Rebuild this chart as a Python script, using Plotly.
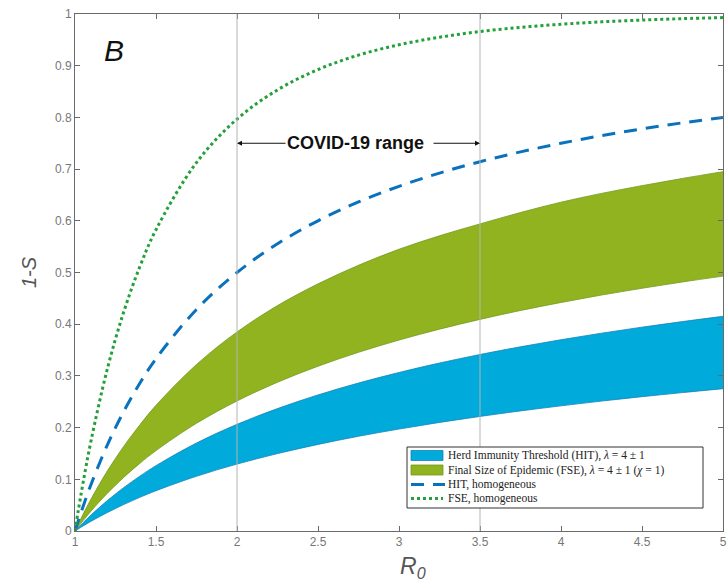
import plotly.graph_objects as go

# ---- data ----
R0 = [1, 1.02, 1.05, 1.1, 1.2, 1.3, 1.4, 1.5, 1.75, 2, 2.25, 2.5, 2.75, 3,
      3.25, 3.5, 3.75, 4, 4.25, 4.5, 4.75, 5]
hit_upper = [0, 0.0066, 0.0161, 0.0313, 0.0590, 0.0837, 0.1061, 0.1264, 0.1702,
             0.2063, 0.2368, 0.2632, 0.2862, 0.3066, 0.3249, 0.3414, 0.3563,
             0.3700, 0.3826, 0.3943, 0.4051, 0.4152]
hit_lower = [0, 0.0040, 0.0097, 0.0189, 0.0358, 0.0511, 0.0651, 0.0779, 0.1059,
             0.1294, 0.1497, 0.1674, 0.1832, 0.1972, 0.2100, 0.2216, 0.2323,
             0.2421, 0.2513, 0.2598, 0.2677, 0.2752]
fse_upper = [0, 0.0133, 0.0324, 0.0624, 0.1163, 0.1634, 0.2051, 0.243, 0.322,
             0.385, 0.436, 0.478, 0.514, 0.545, 0.571, 0.594, 0.616, 0.636,
             0.653, 0.668, 0.682, 0.695]
fse_lower = [0, 0.0082, 0.0201, 0.0389, 0.0730, 0.1035, 0.1308, 0.1555, 0.2083,
             0.2515, 0.2877, 0.3187, 0.3456, 0.3693, 0.3904, 0.4093, 0.4265,
             0.442, 0.4564, 0.4695, 0.4817, 0.493]
hit_hom = [0, 0.0196, 0.0476, 0.0909, 0.1667, 0.2308, 0.2857, 0.3333, 0.4286,
           0.5, 0.5556, 0.6, 0.6364, 0.6667, 0.6923, 0.7143, 0.7333, 0.75,
           0.7647, 0.7778, 0.7895, 0.8]
fse_hom = [0, 0.0390, 0.0937, 0.176, 0.314, 0.423, 0.511, 0.5828, 0.7127,
           0.7968, 0.8532, 0.8926, 0.9205, 0.9405, 0.955, 0.9661, 0.9741,
           0.9802, 0.9848, 0.9883, 0.991, 0.9930]
covid_range = [2, 3.5]

names = ["Herd Immunity Threshold (HIT), <i>λ</i> = 4 ± 1",
         "Final Size of Epidemic (FSE), <i>λ</i> = 4 ± 1 (<i>χ</i> = 1)",
         "HIT, homogeneous",
         "FSE, homogeneous"]

BLUE_FILL = "#00aadb"
BLUE_EDGE = "#1583b8"
GREEN_FILL = "#92b320"
GREEN_EDGE = "#6f9a1c"
DASH_BLUE = "#0a72bc"
DOT_GREEN = "#24a03a"
AXIS = "#6a6a6a"
DASH_PAT = "13px,9px"
DOT_PAT = "3px,3px"

fig = go.Figure()

fig.add_trace(go.Scatter(x=R0, y=hit_lower, mode="lines", showlegend=False,
                         line=dict(color=BLUE_EDGE, width=0.8, shape="spline")))
fig.add_trace(go.Scatter(x=R0, y=hit_upper, mode="lines", name=names[0], showlegend=False,
                         fill="tonexty", fillcolor=BLUE_FILL,
                         line=dict(color=BLUE_EDGE, width=0.8, shape="spline")))
fig.add_trace(go.Scatter(x=R0, y=fse_lower, mode="lines", showlegend=False,
                         line=dict(color=GREEN_EDGE, width=0.8, shape="spline")))
fig.add_trace(go.Scatter(x=R0, y=fse_upper, mode="lines", name=names[1], showlegend=False,
                         fill="tonexty", fillcolor=GREEN_FILL,
                         line=dict(color=GREEN_EDGE, width=0.8, shape="spline")))
fig.add_trace(go.Scatter(x=R0, y=hit_hom, mode="lines", name=names[2], showlegend=False,
                         line=dict(color=DASH_BLUE, width=3, dash=DASH_PAT,
                                   shape="spline")))
fig.add_trace(go.Scatter(x=R0, y=fse_hom, mode="lines", name=names[3], showlegend=False,
                         line=dict(color=DOT_GREEN, width=3, dash=DOT_PAT,
                                   shape="spline")))

# COVID-19 range vertical lines
for xv in covid_range:
    fig.add_shape(type="line", x0=xv, x1=xv, y0=0, y1=1, xref="x", yref="y",
                  line=dict(color="#b4b4b4", width=1), layer="above")

# COVID-19 range label with arrows
txt_font = dict(family="Liberation Sans, Arial", size=18, color="#111111")
fig.add_annotation(x=covid_range[0], y=0.75, ax=2.565, ay=0.75, xref="x", yref="y",
                   axref="x", ayref="y", text="<b>COVID-19</b>", font=txt_font,
                   showarrow=True, arrowhead=2, arrowsize=1, arrowwidth=1,
                   arrowcolor="#111111")
fig.add_annotation(x=covid_range[1], y=0.75, ax=3.003, ay=0.75, xref="x", yref="y",
                   axref="x", ayref="y", text="<b>range</b>", font=txt_font,
                   showarrow=True, arrowhead=2, arrowsize=1, arrowwidth=1,
                   arrowcolor="#111111", startstandoff=8)

fig.add_annotation(x=1.24, y=0.93, xref="x", yref="y", text="<i>B</i>", showarrow=False,
                   font=dict(family="Liberation Sans, Arial", size=30, color="#111111"))

# ---- manual legend (paper coordinates) ----
def px_x(p):
    return (p - 75) / 648.0

def px_y(p):
    return (531 - p) / 517.0

# x-axis label (offset right of centre, as in the reference)
fig.add_annotation(x=px_x(398), y=px_y(551), xref="paper", yref="paper",
                   xanchor="left", yanchor="top",
                   text="<i>R<sub>0</sub></i>", showarrow=False,
                   font=dict(family="Liberation Sans, Arial", size=23, color="#555555"))

fig.add_shape(type="rect", xref="paper", yref="paper",
              x0=px_x(407), x1=px_x(703), y0=px_y(508), y1=px_y(447),
              fillcolor="white", line=dict(color="#333333", width=1), layer="above")
rows = [455.5, 470.0, 484.5, 498.5]
sx0, sx1 = px_x(411), px_x(443)
fig.add_shape(type="rect", xref="paper", yref="paper", x0=sx0, x1=sx1,
              y0=px_y(rows[0] + 5), y1=px_y(rows[0] - 5), fillcolor=BLUE_FILL,
              line=dict(color=BLUE_EDGE, width=0.8), layer="above")
fig.add_shape(type="rect", xref="paper", yref="paper", x0=sx0, x1=sx1,
              y0=px_y(rows[1] + 5), y1=px_y(rows[1] - 5), fillcolor=GREEN_FILL,
              line=dict(color=GREEN_EDGE, width=0.8), layer="above")
fig.add_shape(type="line", xref="paper", yref="paper", x0=sx0, x1=px_x(445),
              y0=px_y(rows[2]), y1=px_y(rows[2]),
              line=dict(color=DASH_BLUE, width=3, dash=DASH_PAT), layer="above")
fig.add_shape(type="line", xref="paper", yref="paper", x0=sx0, x1=sx1,
              y0=px_y(rows[3]), y1=px_y(rows[3]),
              line=dict(color=DOT_GREEN, width=3, dash=DOT_PAT), layer="above")
for r, nm in zip(rows, names):
    fig.add_annotation(x=px_x(446), y=px_y(r), xref="paper", yref="paper",
                       xanchor="left", yanchor="middle", text=nm, showarrow=False,
                       font=dict(family="Liberation Serif, Times New Roman", size=11.5,
                                 color="#222222"))

axis_common = dict(showline=True, linecolor=AXIS, linewidth=1, mirror="ticks",
                   ticks="inside", ticklen=5, tickcolor=AXIS, tickwidth=1,
                   showgrid=False, zeroline=False, automargin=False,
                   tickfont=dict(family="Liberation Sans, Arial", size=12, color="#777777"))

fig.update_xaxes(range=[1, 5], dtick=0.5, tick0=1, **axis_common)
fig.update_yaxes(range=[0, 1], dtick=0.1, tick0=0,
                 title=dict(text="<i>1-S</i>", standoff=12,
                            font=dict(family="Liberation Sans, Arial", size=20,
                                      color="#555555")),
                 **axis_common)

fig.update_layout(
    width=727, height=584,
    margin=dict(l=75, r=4, t=14, b=53),
    plot_bgcolor="white", paper_bgcolor="white",
    showlegend=False,
)

fig.write_html("out.html", config={"displayModeBar": False},
               post_script="document.body.style.margin='0px';")
